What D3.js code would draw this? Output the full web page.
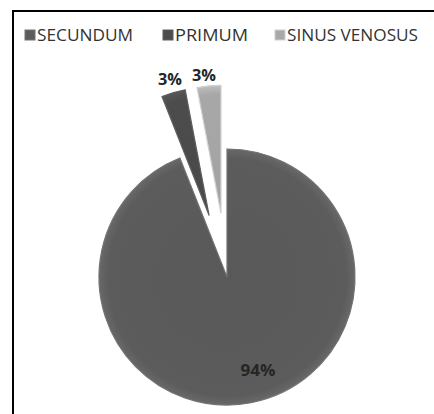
<!DOCTYPE html>
<meta charset="utf-8">
<style>
  body { margin: 0; background: white; }
  text { font-family: "Open Sans", "Liberation Sans", sans-serif; }
</style>
<svg width="434" height="414"></svg>
<script src="https://d3js.org/d3.v7.min.js"></script>
<script>

var categories = ["SECUNDUM", "PRIMUM", "SINUS VENOSUS"];
var values = [94, 3, 3];
var labels = ["94%", "3%", "3%"];

var colors = ["#5c5c5c", "#4c4c4c", "#a8a8a8"];

var svg = d3.select("svg"),
    cx = 227, cy = 277,
    radius = 128,
    explode = [0, 64, 64];

// frame (left and top edges only)
svg.append("path")
    .attr("d", "M13,414 V11 H434")
    .attr("fill", "none")
    .attr("stroke", "#000")
    .attr("stroke-width", 2);

var defs = svg.append("defs");
colors.forEach(function(c, i) {
  var grad = defs.append("radialGradient")
      .attr("id", "g" + i)
      .attr("gradientUnits", "userSpaceOnUse")
      .attr("cx", 0).attr("cy", 0).attr("r", radius);
  grad.append("stop").attr("offset", "0%").attr("stop-color", d3.color(c).darker(0.1));
  grad.append("stop").attr("offset", "93%").attr("stop-color", c);
  grad.append("stop").attr("offset", "100%").attr("stop-color", d3.color(c).brighter(0.35));
});

var pie = d3.pie().sort(null).value(function(d) { return d; });
var arcs = pie(values);

var arc = d3.arc().innerRadius(0).outerRadius(radius);

var g = svg.append("g")
    .attr("transform", "translate(" + cx + "," + cy + ")");

var slice = g.selectAll(".slice")
  .data(arcs)
  .enter().append("g")
    .attr("class", "slice")
    .attr("transform", function(d, i) {
      var a = (d.startAngle + d.endAngle) / 2;
      return "translate(" + (Math.sin(a) * explode[i]) + "," + (-Math.cos(a) * explode[i]) + ")";
    });

slice.append("path")
    .attr("d", arc)
    .attr("fill", function(d, i) { return "url(#g" + i + ")"; })
    .attr("stroke", function(d, i) { return d3.color(colors[i]).brighter(0.6); })
    .attr("stroke-width", 1.2);

// data labels
var labelPos = [[31, 93], [-57, -198], [-23, -202]];
var labelW = [35, 24, 24];
g.selectAll(".lbl")
  .data(labels)
  .enter().append("text")
    .attr("class", "lbl")
    .attr("x", function(d, i) { return labelPos[i][0] - labelW[i] / 2; })
    .attr("y", function(d, i) { return labelPos[i][1]; })
    .attr("dy", "0.35em")
    .attr("font-size", 16)
    .attr("font-weight", "bold")
    .attr("fill", "#262626")
    .attr("textLength", function(d, i) { return labelW[i]; })
    .attr("lengthAdjust", "spacingAndGlyphs")
    .text(function(d) { return d; });

// legend
var legendX = [25, 163, 275];
var legendW = [96, 73, 131];
var legend = svg.selectAll(".legend")
  .data(categories)
  .enter().append("g")
    .attr("class", "legend")
    .attr("transform", function(d, i) { return "translate(" + legendX[i] + ",30)"; });

legend.append("rect")
    .attr("width", 10)
    .attr("height", 10)
    .attr("fill", function(d, i) { return colors[i]; })
    .attr("stroke", function(d, i) { return d3.color(colors[i]).brighter(0.6); });

legend.append("text")
    .attr("x", 12)
    .attr("y", 5)
    .attr("dy", "0.36em")
    .attr("font-size", 15.5)
    .attr("fill", "#333")
    .attr("textLength", function(d, i) { return legendW[i]; })
    .attr("lengthAdjust", "spacingAndGlyphs")
    .text(function(d) { return d; });

</script>
